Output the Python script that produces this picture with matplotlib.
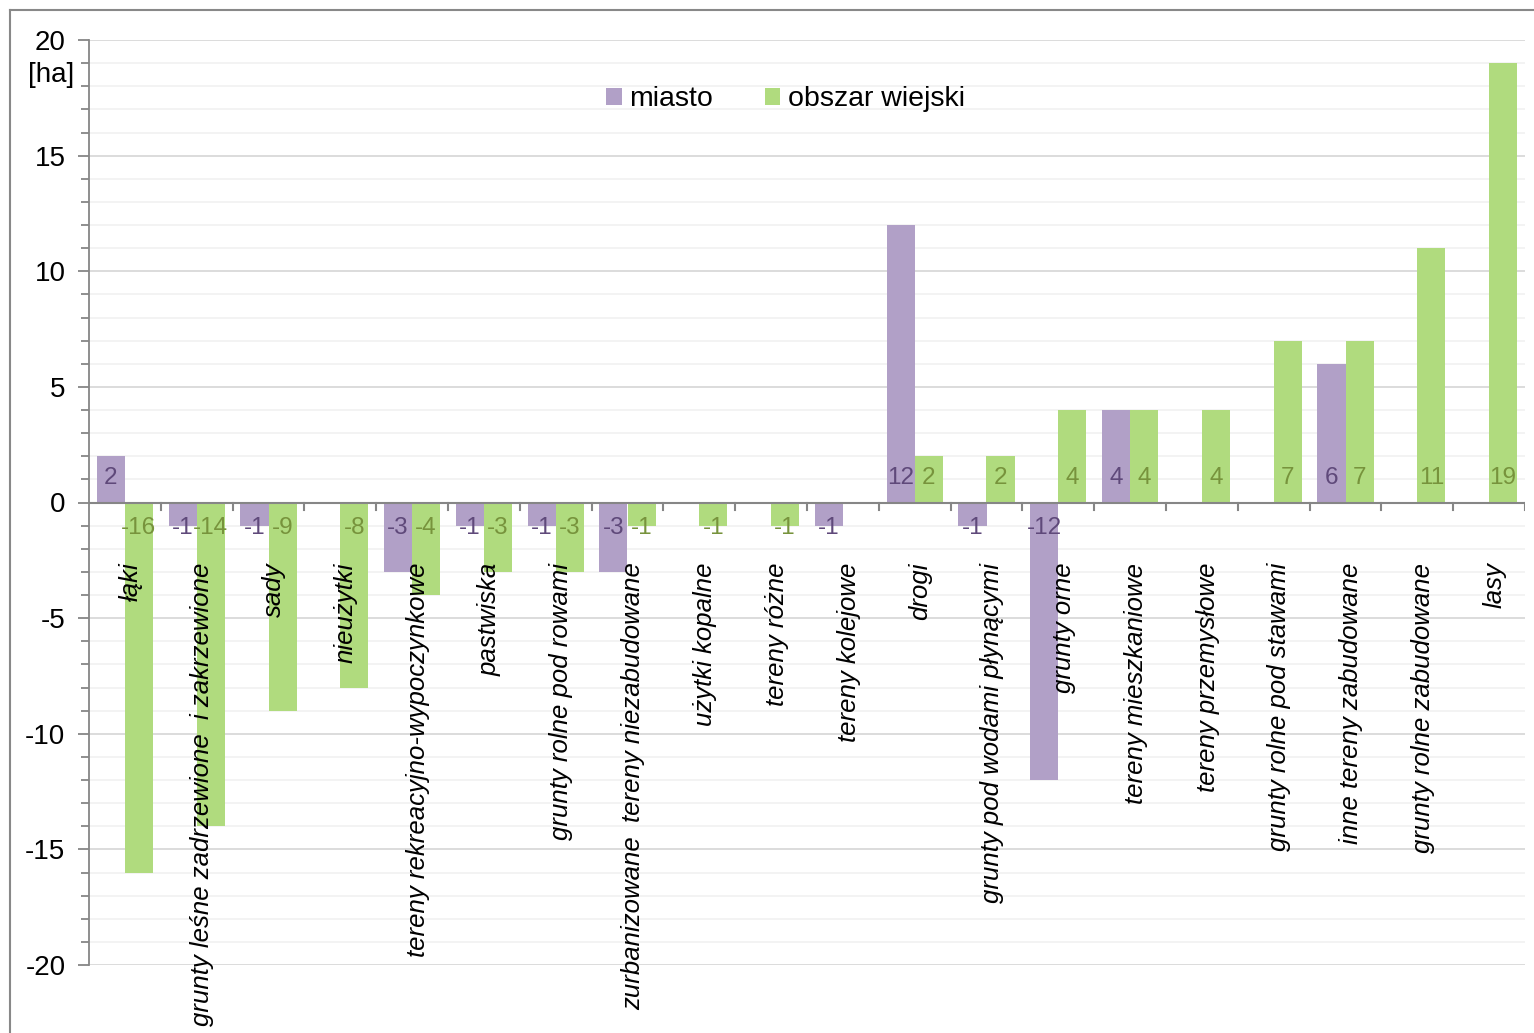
import numpy as np
import matplotlib
matplotlib.use("Agg")
import matplotlib.pyplot as plt
from matplotlib.lines import Line2D

plt.rcParams['font.family'] = ['Liberation Sans', 'DejaVu Sans']

categories = [
    "łąki",
    "grunty leśne zadrzewione  i zakrzewione",
    "sady",
    "nieużytki",
    "tereny rekreacyjno-wypoczynkowe",
    "pastwiska",
    "grunty rolne pod rowami",
    "zurbanizowane  tereny niezabudowane",
    "użytki kopalne",
    "tereny różne",
    "tereny kolejowe",
    "drogi",
    "grunty pod wodami płynącymi",
    "grunty orne",
    "tereny mieszkaniowe",
    "tereny przemysłowe",
    "grunty rolne pod stawami",
    "inne tereny zabudowane",
    "grunty rolne zabudowane",
    "lasy",
]
miasto = [2, -1, -1, None, -3, -1, -1, -3, None, None, -1, 12, -1, -12, 4, None, None, 6, None, None]
wiejski = [-16, -14, -9, -8, -4, -3, -3, -1, -1, -1, None, 2, 2, 4, 4, 4, 7, 7, 11, 19]
series_names = ["miasto", "obszar wiejski"]
yticks = [20, 15, 10, 5, 0, -5, -10, -15, -20]

c_m = "#B1A0C7"
c_w = "#B0DB7E"
c_m_lab = "#5F497A"
c_w_lab = "#77933C"

W, H = 1534, 1033
fig = plt.figure(figsize=(W / 100, H / 100), dpi=100)
ax = fig.add_axes([89 / W, 1 - 965 / H, (1525 - 89) / W, (965 - 40) / H])

n = len(categories)
x = np.arange(n)
bw = 0.39
m_vals = np.array([np.nan if v is None else v for v in miasto], dtype=float)
w_vals = np.array([np.nan if v is None else v for v in wiejski], dtype=float)

ax.bar(x - bw / 2, np.nan_to_num(m_vals), bw, color=c_m, label=series_names[0], zorder=3)
ax.bar(x + bw / 2, np.nan_to_num(w_vals), bw, color=c_w, label=series_names[1], zorder=3)

# data labels near the zero line
for xs, vals, col in ((x - bw / 2, m_vals, c_m_lab), (x + bw / 2, w_vals, c_w_lab)):
    for xi, v in zip(xs, vals):
        if np.isnan(v):
            continue
        off = 25 if v > 0 else -25
        ax.annotate(f"{int(v)}", (xi, 0), xytext=(0, off), textcoords="offset pixels",
                    ha="center", va="center", fontsize=17.5, color=col, zorder=5)

ax.set_xlim(-0.5, n - 0.5)
ax.set_ylim(-20, 20)
ax.set_yticks(yticks)
ax.set_yticklabels([str(t) for t in yticks], fontsize=20)
ax.set_yticks(np.arange(-20, 21, 1), minor=True)
ax.grid(axis='y', which='major', color='#D9D9D9', lw=1.3, zorder=0)
ax.grid(axis='y', which='minor', color='#F2F2F2', lw=1.3, zorder=0)
ax.set_axisbelow(True)

for s in ('top', 'right', 'bottom'):
    ax.spines[s].set_visible(False)
ax.spines['left'].set_color('#868686')
ax.spines['left'].set_linewidth(1.3)
ax.tick_params(axis='y', which='major', length=8, width=1.3, color='#868686', pad=9)
ax.tick_params(axis='y', which='minor', length=6, width=1.3, color='#868686')

# category axis along zero
ax.axhline(0, color='#868686', lw=1.5, zorder=4)
ax.set_xticks([])
bounds = np.arange(n + 1) - 0.5
for b in bounds[1:]:
    ax.add_line(Line2D([b, b], [0, -0.33], color='#868686', lw=1.5, zorder=4))

# category labels (rotated, inside the plot)
for xi, name in zip(x, categories):
    ax.text(xi + 0.08, -2.6, name, rotation=90, ha='center', va='top', fontsize=18.5,
            style='italic', color='black', zorder=6)

ax.text(-0.01, 0.962, "[ha]", transform=ax.transAxes, ha='right', va='center', fontsize=20)

ax.legend(loc='center', bbox_to_anchor=(0.485, 0.936), ncol=2, frameon=False, fontsize=20.5,
          handlelength=0.55, handleheight=0.55, handletextpad=0.26, columnspacing=1.8)

# outer chart border
fig.add_artist(Line2D([10 / W, 10 / W], [0, 1 - 10 / H], transform=fig.transFigure, color='#888888', lw=1.5))
fig.add_artist(Line2D([10 / W, 1], [1 - 10 / H, 1 - 10 / H], transform=fig.transFigure, color='#888888', lw=1.5))

fig.savefig("out.png", dpi=100)
